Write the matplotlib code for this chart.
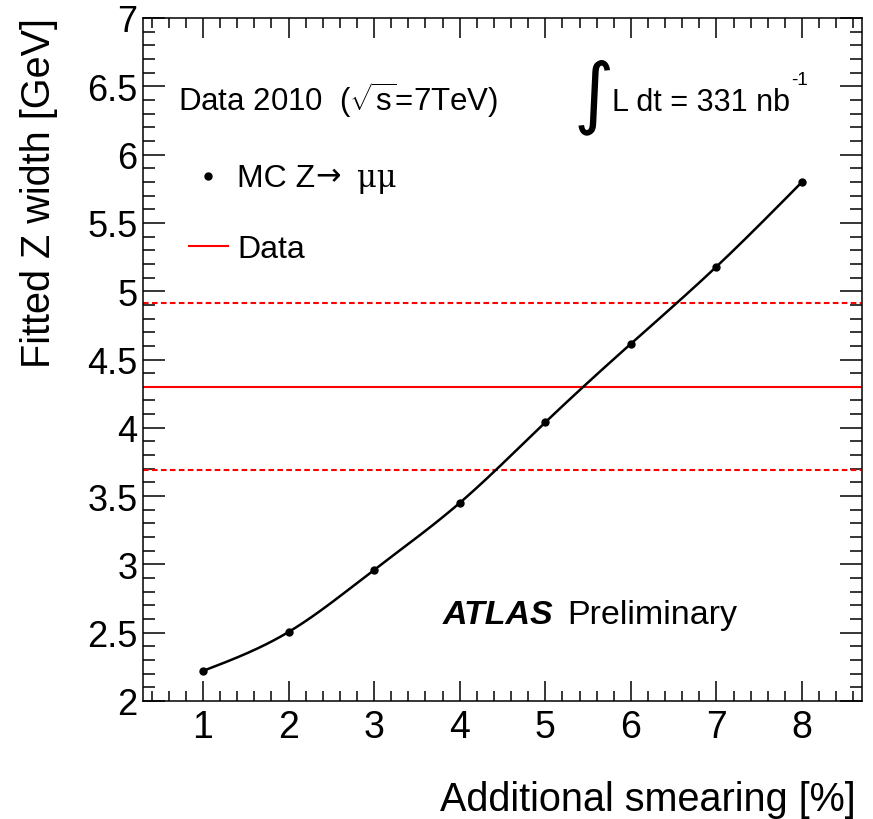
import numpy as np
import matplotlib
matplotlib.use("Agg")
import matplotlib.pyplot as plt
from matplotlib.ticker import MultipleLocator

plt.rcParams['font.family'] = ['Liberation Sans', 'DejaVu Sans']
plt.rcParams['mathtext.fontset'] = 'custom'
plt.rcParams['mathtext.rm'] = 'Liberation Sans'
plt.rcParams['mathtext.it'] = 'Liberation Sans:italic'

# MC Z->mumu fitted width vs. additional smearing
smearing = [1, 2, 3, 4, 5, 6, 7, 8]
fitted_width = [2.22, 2.505, 2.96, 3.45, 4.04, 4.615, 5.18, 5.80]

# measured width in data with its uncertainty band
data_width = 4.30
data_width_err = 0.61

xlim = (0.3, 8.7)
ylim = (2.0, 7.0)
ytick_values = [2, 2.5, 3, 3.5, 4, 4.5, 5, 5.5, 6, 6.5, 7]
ytick_labels = ['2', '2.5', '3', '3.5', '4', '4.5', '5', '5.5', '6', '6.5', '7']


def natural_spline(x, y, n=400):
    """Smooth curve through the points (natural cubic spline)."""
    x = np.asarray(x, float)
    y = np.asarray(y, float)
    k = len(x)
    h = np.diff(x)
    A = np.zeros((k, k))
    b = np.zeros(k)
    A[0, 0] = A[-1, -1] = 1.0
    for i in range(1, k - 1):
        A[i, i - 1] = h[i - 1]
        A[i, i] = 2 * (h[i - 1] + h[i])
        A[i, i + 1] = h[i]
        b[i] = 3 * ((y[i + 1] - y[i]) / h[i] - (y[i] - y[i - 1]) / h[i - 1])
    c = np.linalg.solve(A, b)
    xs = np.linspace(x[0], x[-1], n)
    idx = np.clip(np.searchsorted(x, xs) - 1, 0, k - 2)
    t = xs - x[idx]
    bb = (y[idx + 1] - y[idx]) / h[idx] - h[idx] * (2 * c[idx] + c[idx + 1]) / 3
    dd = (c[idx + 1] - c[idx]) / (3 * h[idx])
    ys = y[idx] + bb * t + c[idx] * t ** 2 + dd * t ** 3
    return xs, ys


W, H = 873, 820
fig = plt.figure(figsize=(W / 100, H / 100), dpi=100)
ax = fig.add_axes([143 / W, 1 - 702 / H, (862 - 143) / W, (702 - 19) / H])


def fx(px):
    return px / W


def fy(py):
    return 1 - py / H


# data band
ax.axhline(data_width, color='#ff0000', lw=1.5)
for v in (data_width + data_width_err, data_width - data_width_err):
    ax.axhline(v, color='#ff0000', lw=1.5, dashes=(2.7, 1.6))

# MC curve and points
xs, ys = natural_spline(smearing, fitted_width)
ax.plot(xs, ys, color='black', lw=1.8)
ax.plot(smearing, fitted_width, 'o', color='black', ms=5)

ax.set_xlim(*xlim)
ax.set_ylim(*ylim)
ax.xaxis.set_major_locator(MultipleLocator(1))
ax.xaxis.set_minor_locator(MultipleLocator(0.2))
ax.set_yticks(ytick_values)
ax.set_yticklabels(ytick_labels)
ax.yaxis.set_minor_locator(MultipleLocator(0.1))

ax.tick_params(which='both', direction='in', top=True, right=True, width=1.1,
               color='black')
ax.tick_params(axis='x', which='major', length=14.5, pad=6, labelsize=27)
ax.tick_params(axis='x', which='minor', length=7.2)
ax.tick_params(axis='y', which='major', length=15.6, pad=4, labelsize=26)
ax.tick_params(axis='y', which='minor', length=8.4)
for s in ax.spines.values():
    s.set_linewidth(1.1)

# axis titles
fig.text(fx(856), fy(811), 'Additional smearing [%]', fontsize=28.5,
         ha='right', va='baseline')
fig.text(fx(50), fy(18), 'Fitted Z width [GeV]', fontsize=28.5, rotation=90,
         rotation_mode='anchor', ha='right', va='baseline')

# annotations
fig.text(fx(178), fy(111), r'Data 2010  ($\sqrt{\mathrm{s}}$=7TeV)',
         fontsize=22.5, va='baseline', ha='left')
fig.text(fx(574), fy(97), '\u222b', family='DejaVu Sans', fontsize=56,
         va='center', ha='left')
fig.text(fx(612), fy(111), 'L dt = 331 nb', fontsize=22,
         va='baseline', ha='left')
fig.text(fx(791), fy(85), '-1', fontsize=13.5, va='baseline', ha='left')

# legend
fig.lines.append(plt.Line2D([fx(208)], [fy(177)], marker='o', color='black',
                            ms=5, transform=fig.transFigure))
fig.text(fx(237), fy(187), 'MC Z', fontsize=23, va='baseline', ha='left')
fig.text(fx(315), fy(185), '\u2192', family='DejaVu Sans', fontsize=22,
         va='baseline', ha='left')
fig.text(fx(357), fy(187), '\u03bc\u03bc', family='DejaVu Serif',
         fontsize=22, va='baseline', ha='left')
fig.lines.append(plt.Line2D([fx(189), fx(228)], [fy(247)] * 2,
                            color='#ff0000', lw=1.5, transform=fig.transFigure))
fig.text(fx(237), fy(258), 'Data', fontsize=23, va='baseline', ha='left')

fig.text(fx(443), fy(624), 'ATLAS', fontsize=24.5, weight='bold',
         style='italic', va='baseline', ha='left')
fig.text(fx(567), fy(624), 'Preliminary', fontsize=24.5,
         va='baseline', ha='left')

fig.savefig('out.png', dpi=100)
